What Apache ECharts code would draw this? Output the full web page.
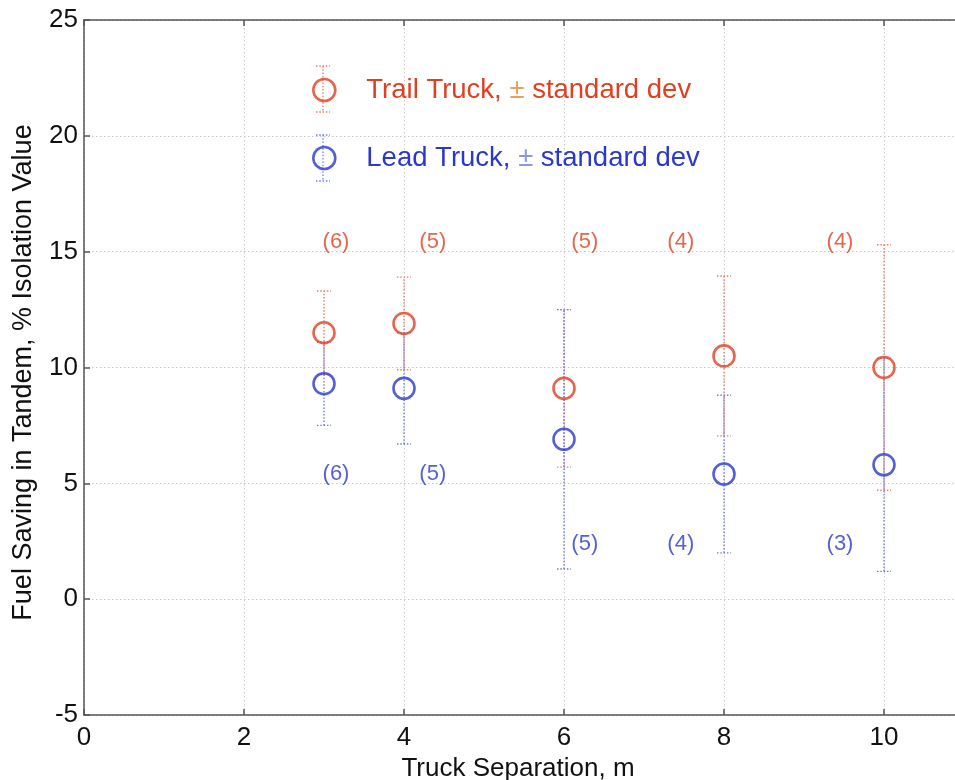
<!DOCTYPE html>
<html>
<head>
<meta charset="utf-8">
<title>Fuel saving in tandem vs truck separation</title>
<script src="https://cdn.jsdelivr.net/npm/echarts@6/dist/echarts.min.js"></script>
<style>
  html, body { margin: 0; padding: 0; background: #fff; }
  #chart { width: 955px; height: 780px; }
</style>
</head>
<body>
<div id="chart"></div>
<script>
// Truck separation (m) at which the runs were made
const separation = [3, 4, 6, 8, 10];

// Trail truck: mean fuel saving (% of isolation value) and standard deviation
const trailMean = [11.5, 11.9, 9.1, 10.5, 10.0];
const trailSD   = [1.8, 2.0, 3.4, 3.45, 5.3];
const trailRuns = [6, 5, 5, 4, 4];

// Lead truck: mean fuel saving and standard deviation
const leadMean = [9.3, 9.1, 6.9, 5.4, 5.8];
const leadSD   = [1.8, 2.4, 5.6, 3.4, 4.6];
const leadRuns = [6, 5, 5, 4, 3];

// Where the run-count notes sit, in axis units
const trailNoteAt = [[3.15, 15.4], [4.36, 15.4], [6.26, 15.4], [7.46, 15.4], [9.45, 15.4]];
const leadNoteAt  = [[3.15, 5.4], [4.36, 5.4], [6.26, 2.4], [7.46, 2.4], [9.45, 2.4]];

const xTicks = [0, 2, 4, 6, 8, 10];
const yTicks = [-5, 0, 5, 10, 15, 20, 25];

const TRAIL = 'Trail Truck, \u00b1 standard dev';
const LEAD  = 'Lead Truck, \u00b1 standard dev';

const RED = '#e0401f', RED_BAR = '#ec7a68', RED_PM = '#e8a060';
const BLUE = '#2a38cc', BLUE_BAR = '#6f7ee4', BLUE_PM = '#8a98e0';
const FONT = 'Liberation Sans, Arial, Helvetica, sans-serif';

function barRows(mean, sd) {
  return separation.map((x, i) => [x, mean[i] - sd[i], mean[i] + sd[i]]);
}

function errorBarSeries(name, rows, color) {
  return {
    name: name,
    type: 'custom',
    z: 2,
    silent: true,
    itemStyle: { color: color },
    data: rows,
    renderItem: function (params, api) {
      const x = api.value(0);
      const lo = api.coord([x, api.value(1)]);
      const hi = api.coord([x, api.value(2)]);
      const half = 7;
      const style = { stroke: color, lineWidth: 1.4, lineDash: [1.5, 1.8] };
      return {
        type: 'group',
        children: [
          { type: 'line', shape: { x1: lo[0], y1: lo[1], x2: hi[0], y2: hi[1] }, style: style },
          { type: 'line', shape: { x1: hi[0] - half, y1: hi[1], x2: hi[0] + half, y2: hi[1] }, style: style },
          { type: 'line', shape: { x1: lo[0] - half, y1: lo[1], x2: lo[0] + half, y2: lo[1] }, style: style }
        ]
      };
    }
  };
}

function pointSeries(name, mean, color) {
  return {
    name: name,
    type: 'scatter',
    z: 3,
    symbol: 'circle',
    symbolSize: 21,
    itemStyle: { color: 'rgba(255,255,255,0)', borderColor: color, borderWidth: 2.6 },
    data: separation.map((x, i) => [x, mean[i]])
  };
}

function noteSeries(at, runs, color) {
  return {
    type: 'scatter',
    z: 4,
    silent: true,
    symbolSize: 0,
    label: {
      show: true,
      position: 'inside',
      color: color,
      fontFamily: FONT,
      fontSize: 22,
      formatter: p => '(' + runs[p.dataIndex] + ')'
    },
    data: at.map(p => [p[0], p[1]])
  };
}

// dotted whisker drawn through each legend marker
function legendWhisker(cx, cy, color) {
  const style = { stroke: color, lineWidth: 1.3, lineDash: [1.5, 1.8] };
  return {
    type: 'group',
    silent: true,
    z: 0,
    children: [
      { type: 'line', shape: { x1: cx, y1: cy - 23, x2: cx, y2: cy + 23 }, style: style },
      { type: 'line', shape: { x1: cx - 7, y1: cy - 23, x2: cx + 7, y2: cy - 23 }, style: style },
      { type: 'line', shape: { x1: cx - 7, y1: cy + 23, x2: cx + 7, y2: cy + 23 }, style: style }
    ]
  };
}

const chart = echarts.init(document.getElementById('chart'), null, { renderer: 'canvas' });

chart.setOption({
  backgroundColor: '#ffffff',
  animation: false,
  textStyle: { fontFamily: FONT },
  grid: { left: 84, top: 20, right: -9, bottom: 65, containLabel: false, outerBoundsMode: 'none' },
  legend: {
    orient: 'vertical',
    left: 307,
    top: 71,
    padding: 5,
    itemWidth: 22,
    itemHeight: 22,
    itemGap: 40,
    selectedMode: false,
    formatter: n => n.replace('\u00b1', '{pm|\u00b1}'),
    textStyle: { fontFamily: FONT, fontSize: 27.5, padding: [0, 0, 0, 26] },
    data: [
      { name: TRAIL, icon: 'circle', itemStyle: { color: 'rgba(255,255,255,0)', borderColor: RED, borderWidth: 2.6 },
        textStyle: { color: RED, rich: { pm: { color: RED_PM, fontSize: 27.5, fontFamily: FONT } } } },
      { name: LEAD, icon: 'circle', itemStyle: { color: 'rgba(255,255,255,0)', borderColor: BLUE, borderWidth: 2.6 },
        textStyle: { color: BLUE, rich: { pm: { color: BLUE_PM, fontSize: 27.5, fontFamily: FONT } } } }
    ]
  },
  graphic: [
    legendWhisker(323, 89, RED_BAR),
    legendWhisker(323, 158, BLUE_BAR)
  ],
  xAxis: [
    {
      type: 'value',
      min: xTicks[0],
      max: 11,
      interval: 2,
      name: 'Truck Separation, m',
      nameLocation: 'middle',
      nameGap: 41,
      nameTextStyle: { color: '#111', fontSize: 26, fontFamily: FONT, padding: [0, 0, 0, -12] },
      axisLine: { show: true, onZero: false, lineStyle: { color: '#555', width: 1.5 } },
      axisTick: { show: true, inside: true, length: 6, lineStyle: { color: '#555', width: 1.5 } },
      axisLabel: { color: '#111', fontSize: 26, fontFamily: FONT, margin: 10, showMaxLabel: false },
      splitLine: { show: true, lineStyle: { color: '#c8c8c8', type: [1.5, 2.5], width: 1 } }
    },
    {
      type: 'value',
      position: 'top',
      min: xTicks[0],
      max: 11,
      interval: 2,
      axisLine: { show: true, onZero: false, lineStyle: { color: '#555', width: 1.5 } },
      axisTick: { show: true, inside: true, length: 6, lineStyle: { color: '#555', width: 1.5 } },
      axisLabel: { show: false },
      splitLine: { show: false }
    }
  ],
  yAxis: {
    type: 'value',
    min: yTicks[0],
    max: yTicks[yTicks.length - 1],
    interval: 5,
    name: 'Fuel Saving in Tandem, % Isolation Value',
    nameLocation: 'middle',
    nameGap: 47,
    nameTextStyle: { color: '#111', fontSize: 27, fontFamily: FONT, padding: [0, 10, 0, 0] },
    axisLine: { show: true, onZero: false, lineStyle: { color: '#555', width: 1.5 } },
    axisTick: { show: true, inside: true, length: 6, lineStyle: { color: '#555', width: 1.5 } },
    axisLabel: { color: '#111', fontSize: 26, fontFamily: FONT, margin: 6 },
    splitLine: { show: true, lineStyle: { color: '#c8c8c8', type: [1.5, 2.5], width: 1 } }
  },
  series: [
    errorBarSeries(TRAIL + ' whiskers', barRows(trailMean, trailSD), RED_BAR),
    errorBarSeries(LEAD + ' whiskers', barRows(leadMean, leadSD), BLUE_BAR),
    pointSeries(TRAIL, trailMean, RED),
    pointSeries(LEAD, leadMean, BLUE),
    noteSeries(trailNoteAt, trailRuns, RED),
    noteSeries(leadNoteAt, leadRuns, BLUE)
  ]
});
</script>
</body>
</html>
